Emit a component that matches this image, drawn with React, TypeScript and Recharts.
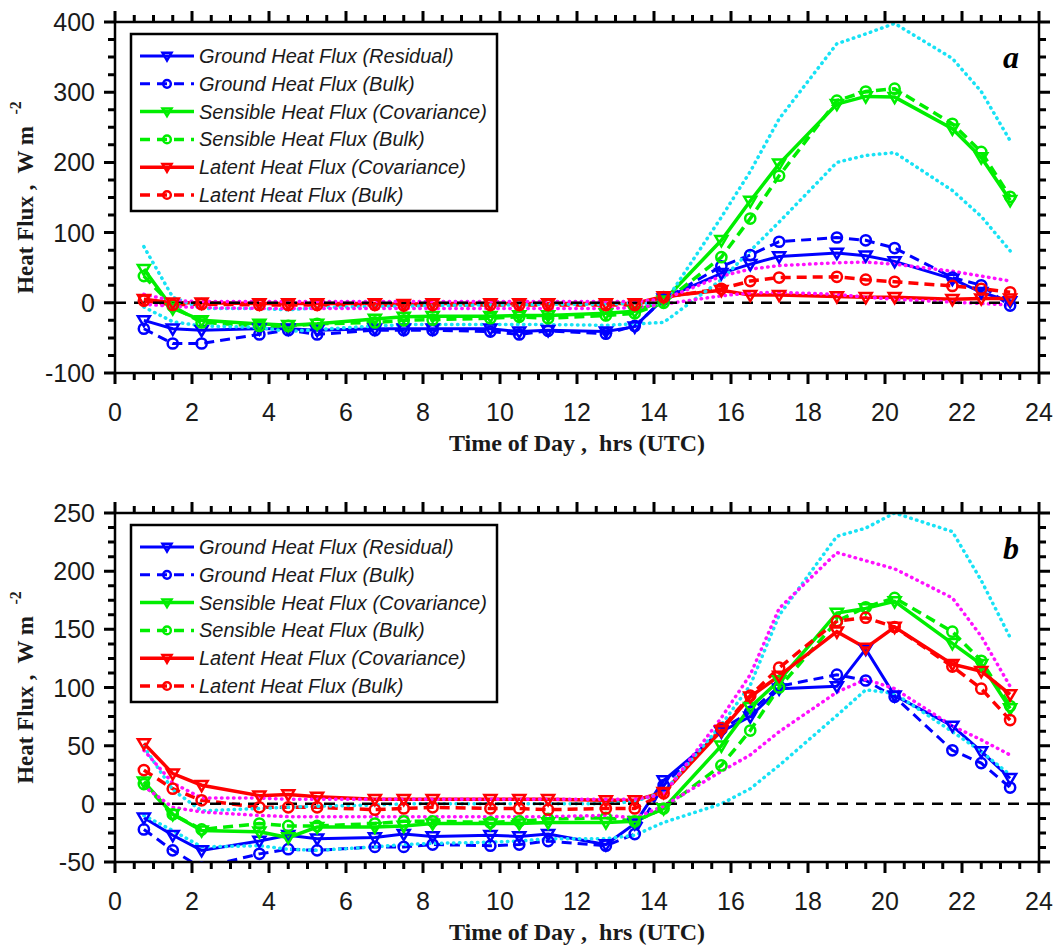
import { LineChart, Line, XAxis, YAxis, ReferenceLine, Customized } from 'recharts';

// hours (UTC) of each averaged sample
const TIMES = [0.75, 1.5, 2.25, 3.75, 4.5, 5.25, 6.75, 7.5, 8.25, 9.75, 10.5, 11.25, 12.75, 13.5, 14.25, 15.75, 16.5, 17.25, 18.75, 19.5, 20.25, 21.75, 22.5, 23.25];

// panel a
const groundResA = [-25, -37, -39, -37, -37, -39, -37, -37, -37, -37, -41, -39, -41, -34, 6, 42, 55, 66, 71, 67, 59, 34, 15, 2];
const groundBulkA = [-37, -58, -58, -45, -39, -45, -39, -39, -39, -41, -45, -40, -44, -33, 5, 52, 68, 87, 93, 89, 78, 36, 25, -4];
const sensCovA = [48, -8, -25, -30, -32, -30, -23, -20, -19, -19, -18, -18, -15, -12, 3, 89, 145, 198, 283, 294, 293, 248, 207, 146];
const sensBulkA = [38, -5, -28, -33, -33, -30, -28, -25, -24, -22, -20, -22, -18, -15, 0, 65, 120, 181, 288, 301, 305, 255, 215, 151];
const latCovA = [5, 0, 0, -1, -1, -1, -1, -2, -1, -1, -1, -1, -1, -1, 9, 18, 11, 11, 9, 8, 8, 5, 6, 6];
const latBulkA = [3, -3, -2, -3, -3, -3, -3, -4, -3, -3, -3, -3, -3, -3, 8, 20, 31, 36, 37, 33, 30, 24, 20, 15];
const cyanHiA = [80, 8, -8, -8, -10, -7, -5, -5, -4, -3, -3, -2, -2, 0, -2, 122, 187, 262, 369, 383, 398, 348, 301, 231];
const cyanLoA = [-6, -27, -33, -35, -41, -38, -33, -31, -31, -31, -31, -31, -32, -30, -28, 33, 74, 115, 200, 210, 214, 160, 123, 74];
const magHiA = [12, 3, 2, 2, 2, 2, 2, 2, 2, 2, 2, 2, 2, 2, 5, 38, 48, 53, 57, 58, 55, 45, 38, 31];
const magLoA = [-2, -5, -7, -8, -8, -8, -8, -8, -8, -8, -8, -8, -8, -7, -2, 10, 14, 15, 12, 8, 5, 1, -1, -3];

// panel b
const groundResB = [-12, -27, -40, -32, -27, -30, -29, -26, -28, -27, -28, -26, -35, -17, 20, 62, 75, 99, 101, 133, 93, 67, 45, 22];
const groundBulkB = [-22, -40, -55, -43, -39, -40, -37, -37, -35, -36, -35, -32, -36, -26, 16, 64, 79, 101, 111, 106, 92, 46, 35, 14];
const sensCovB = [19, -9, -23, -24, -29, -20, -20, -19, -17, -17, -17, -16, -16, -15, -4, 50, 83, 106, 164, 168, 174, 138, 120, 82];
const sensBulkB = [17, -9, -22, -17, -19, -19, -17, -15, -15, -16, -15, -13, -12, -15, -4, 33, 63, 100, 157, 169, 177, 148, 123, 84];
const latCovB = [52, 26, 16, 7, 8, 6, 4, 4, 4, 4, 4, 4, 3, 3, 10, 63, 92, 110, 148, 134, 152, 120, 114, 94];
const latBulkB = [29, 13, 3, -3, -3, -3, -5, -4, -3, -4, -4, -5, -4, -4, 9, 65, 93, 117, 157, 160, 152, 118, 99, 72];
const cyanHiB = [49, 12, -6, -4, -3, -2, -1, 0, 0, 0, 0, 0, 0, 2, 10, 68, 102, 162, 230, 237, 250, 234, 192, 143];
const cyanLoB = [-10, -23, -37, -36, -39, -40, -37, -35, -34, -33, -32, -30, -30, -27, -16, 0, 13, 33, 76, 98, 95, 62, 45, 25];
const magHiB = [46, 18, 5, 5, 4, 4, 4, 4, 4, 4, 4, 4, 4, 4, 8, 74, 111, 168, 216, 209, 202, 177, 144, 101];
const magLoB = [15, -3, -7, -10, -11, -11, -11, -11, -11, -11, -11, -11, -10, -12, -2, 28, 42, 62, 96, 107, 99, 67, 55, 42];

// axis ticks
const X_MAJOR = [0, 2, 4, 6, 8, 10, 12, 14, 16, 18, 20, 22, 24];
const X_TICKS = Array.from({ length: 49 }, (_, i) => i * 0.5);
const Y_MAJOR_A = [-100, 0, 100, 200, 300, 400];
const Y_TICKS_A = Array.from({ length: 21 }, (_, i) => -100 + i * 25);
const Y_MAJOR_B = [-50, 0, 50, 100, 150, 200, 250];
const Y_TICKS_B = Array.from({ length: 25 }, (_, i) => -50 + i * 12.5);

const SERIES = [
  { key: 'gRes', name: 'Ground Heat Flux (Residual)', color: '#0000ff', dashed: false, marker: 'tri', width: 3 },
  { key: 'gBulk', name: 'Ground Heat Flux (Bulk)', color: '#0000ff', dashed: true, marker: 'circ', width: 3 },
  { key: 'sCov', name: 'Sensible Heat Flux (Covariance)', color: '#00ee00', dashed: false, marker: 'tri', width: 3.5 },
  { key: 'sBulk', name: 'Sensible Heat Flux (Bulk)', color: '#00ee00', dashed: true, marker: 'circ', width: 3.5 },
  { key: 'lCov', name: 'Latent Heat Flux (Covariance)', color: '#ff0000', dashed: false, marker: 'tri', width: 3.5 },
  { key: 'lBulk', name: 'Latent Heat Flux (Bulk)', color: '#ff0000', dashed: true, marker: 'circ', width: 3.5 },
];

const DOTTED = [
  { key: 'cHi', color: '#18e2f5' },
  { key: 'cLo', color: '#18e2f5' },
  { key: 'mHi', color: '#ff10ff' },
  { key: 'mLo', color: '#ff10ff' },
];

const SANS = '"Liberation Sans", Arial, sans-serif';
const SERIF = '"Liberation Serif", "Times New Roman", serif';
const PLOT_LEFT = 115;
const PLOT_RIGHT = 1039;
const AXIS_LINE = { stroke: '#000', strokeWidth: 2.5 };
const MAJOR_LEN = 11;
const MINOR_LEN = 7;

function buildRows(cols: Record<string, number[]>) {
  return TIMES.map((t, i) => {
    const row: Record<string, number> = { t };
    Object.keys(cols).forEach((k) => {
      row[k] = cols[k][i];
    });
    return row;
  });
}

const rowsA = buildRows({
  gRes: groundResA, gBulk: groundBulkA, sCov: sensCovA, sBulk: sensBulkA, lCov: latCovA, lBulk: latBulkA,
  cHi: cyanHiA, cLo: cyanLoA, mHi: magHiA, mLo: magLoA,
});
const rowsB = buildRows({
  gRes: groundResB, gBulk: groundBulkB, sCov: sensCovB, sBulk: sensBulkB, lCov: latCovB, lBulk: latBulkB,
  cHi: cyanHiB, cLo: cyanLoB, mHi: magHiB, mLo: magLoB,
});

function Marker({ kind, cx, cy, color, r }: { kind: string; cx: number; cy: number; color: string; r: number }) {
  if (kind === 'tri') {
    return (
      <polygon
        points={`${cx - r},${cy - r * 0.7} ${cx + r},${cy - r * 0.7} ${cx},${cy + r}`}
        fill="none"
        stroke={color}
        strokeWidth={2.5}
      />
    );
  }
  return <circle cx={cx} cy={cy} r={r * 0.85} fill="none" stroke={color} strokeWidth={2.5} />;
}

function dotFor(s: (typeof SERIES)[number]) {
  return (p: any) => {
    const k = `${s.key}-${p.index}`;
    if (p.cx == null || p.cy == null) return <g key={k} />;
    return (
      <g key={k}>
        <Marker kind={s.marker} cx={p.cx} cy={p.cy} color={s.color} r={6} />
      </g>
    );
  };
}

const xLabel = (p: any) => {
  const v = p.payload.value;
  if (!X_MAJOR.includes(v)) return <g />;
  return (
    <text x={p.x} y={Number(p.y) + 39} textAnchor="middle" dominantBaseline="central" fontFamily={SANS} fontSize={25} fill="#1a1a1a">
      {v}
    </text>
  );
};

const yLabel = (majors: number[]) => (p: any) => {
  const v = p.payload.value;
  if (!majors.includes(v)) return <g />;
  return (
    <text x={Number(p.x) - 20} y={p.y} textAnchor="end" dominantBaseline="central" fontFamily={SANS} fontSize={25} fill="#1a1a1a">
      {v}
    </text>
  );
};

function Panel({
  rows, tag, domain, ticks, majors, plotTop, height, bottomGap,
}: {
  rows: Record<string, number>[]; tag: string; domain: [number, number]; ticks: number[]; majors: number[];
  plotTop: number; height: number; bottomGap: number;
}) {
  const plotBottom = height - bottomGap;
  const cy = (plotTop + plotBottom) / 2;
  const [y0, y1] = domain;
  const xPix = (t: number) => PLOT_LEFT + (t / 24) * (PLOT_RIGHT - PLOT_LEFT);
  const yPix = (v: number) => plotTop + ((y1 - v) / (y1 - y0)) * (plotBottom - plotTop);

  // outward tick marks on all four sides of the frame
  let tickPath = '';
  X_TICKS.forEach((t) => {
    const len = X_MAJOR.includes(t) ? MAJOR_LEN : MINOR_LEN;
    const x = xPix(t);
    tickPath += `M${x},${plotBottom}V${plotBottom + len}M${x},${plotTop}V${plotTop - len}`;
  });
  ticks.forEach((v) => {
    const len = majors.includes(v) ? MAJOR_LEN : MINOR_LEN;
    const y = yPix(v);
    tickPath += `M${PLOT_LEFT},${y}H${PLOT_LEFT - len}M${PLOT_RIGHT},${y}H${PLOT_RIGHT + len}`;
  });

  return (
    <LineChart
      width={1058}
      height={height}
      data={rows}
      margin={{ top: plotTop - 14, right: 1058 - PLOT_RIGHT - 14, bottom: bottomGap - 40, left: PLOT_LEFT - 60 }}
    >
      <XAxis
        dataKey="t"
        type="number"
        domain={[0, 24]}
        ticks={X_TICKS}
        interval={0}
        allowDataOverflow
        height={40}
        tickSize={0}
        tickMargin={0}
        axisLine={AXIS_LINE}
        tickLine={false}
        tick={xLabel}
      />
      <XAxis
        xAxisId="top"
        orientation="top"
        dataKey="t"
        type="number"
        domain={[0, 24]}
        ticks={X_MAJOR}
        height={14}
        axisLine={AXIS_LINE}
        tickLine={false}
        tick={false}
      />
      <YAxis
        type="number"
        domain={domain}
        ticks={ticks}
        interval={0}
        allowDataOverflow
        width={60}
        tickSize={0}
        tickMargin={0}
        axisLine={AXIS_LINE}
        tickLine={false}
        tick={yLabel(majors)}
      />
      <YAxis
        yAxisId="right"
        orientation="right"
        type="number"
        domain={domain}
        ticks={majors}
        width={14}
        axisLine={AXIS_LINE}
        tickLine={false}
        tick={false}
      />
      {SERIES.map((s) => (
        <Line
          key={s.key}
          dataKey={s.key}
          stroke={s.color}
          strokeWidth={s.width}
          strokeDasharray={s.dashed ? '10 6' : undefined}
          type="linear"
          dot={dotFor(s)}
          activeDot={false}
          isAnimationActive={false}
        />
      ))}
      {DOTTED.map((d) => (
        <Line
          key={d.key}
          dataKey={d.key}
          stroke={d.color}
          strokeWidth={3.5}
          strokeDasharray="0.5 5.5"
          strokeLinecap="round"
          type="linear"
          dot={false}
          activeDot={false}
          isAnimationActive={false}
        />
      ))}
      <ReferenceLine y={0} stroke="#000" strokeWidth={2.5} strokeDasharray="11 8" />
      <Customized
        component={() => (
          <g>
            <path d={tickPath} stroke="#000" strokeWidth={3} fill="none" />
            <rect x={131} y={plotTop + 12} width={366} height={177} fill="#fff" stroke="#000" strokeWidth={2.5} />
            {SERIES.map((s, i) => {
              const y = plotTop + 34 + i * 27.8;
              return (
                <g key={s.key}>
                  <line x1={140} x2={194} y1={y} y2={y} stroke={s.color} strokeWidth={s.width} strokeDasharray={s.dashed ? '10 7' : undefined} />
                  <Marker kind={s.marker} cx={167} cy={y} color={s.color} r={4.5} />
                  <text x={199} y={y} dominantBaseline="central" fontFamily={SANS} fontStyle="italic" fontSize={20} fill="#1a1a1a">
                    {s.name}
                  </text>
                </g>
              );
            })}
            <text x={1011} y={plotTop + 35} textAnchor="middle" dominantBaseline="central" fontFamily={SERIF} fontStyle="italic" fontWeight="bold" fontSize={32}>
              {tag}
            </text>
            <text
              x={25}
              y={cy}
              transform={`rotate(-90 25 ${cy})`}
              textAnchor="middle"
              dominantBaseline="central"
              fontFamily={SERIF}
              fontWeight="bold"
              fontSize={23}
              fill="#1a1a1a"
              style={{ whiteSpace: 'pre' }}
            >
              {'Heat Flux ,  W m  '}
              <tspan dy={-10} fontSize={16}>-2</tspan>
            </text>
            <text
              x={(PLOT_LEFT + PLOT_RIGHT) / 2}
              y={plotBottom + 70}
              textAnchor="middle"
              dominantBaseline="central"
              fontFamily={SERIF}
              fontWeight="bold"
              fontSize={24}
              fill="#1a1a1a"
              style={{ whiteSpace: 'pre' }}
            >
              {'Time of Day ,  hrs (UTC)'}
            </text>
          </g>
        )}
      />
    </LineChart>
  );
}

export default function App() {
  return (
    <div style={{ position: 'absolute', left: 0, top: 0, width: 1058, height: 947, background: '#fff', overflow: 'hidden' }}>
      <div style={{ position: 'absolute', left: 0, top: 0 }}>
        <Panel rows={rowsA} tag="a" domain={[-100, 400]} ticks={Y_TICKS_A} majors={Y_MAJOR_A} plotTop={22} height={470} bottomGap={97} />
      </div>
      <div style={{ position: 'absolute', left: 0, top: 490 }}>
        <Panel rows={rowsB} tag="b" domain={[-50, 250]} ticks={Y_TICKS_B} majors={Y_MAJOR_B} plotTop={23} height={457} bottomGap={85} />
      </div>
    </div>
  );
}
